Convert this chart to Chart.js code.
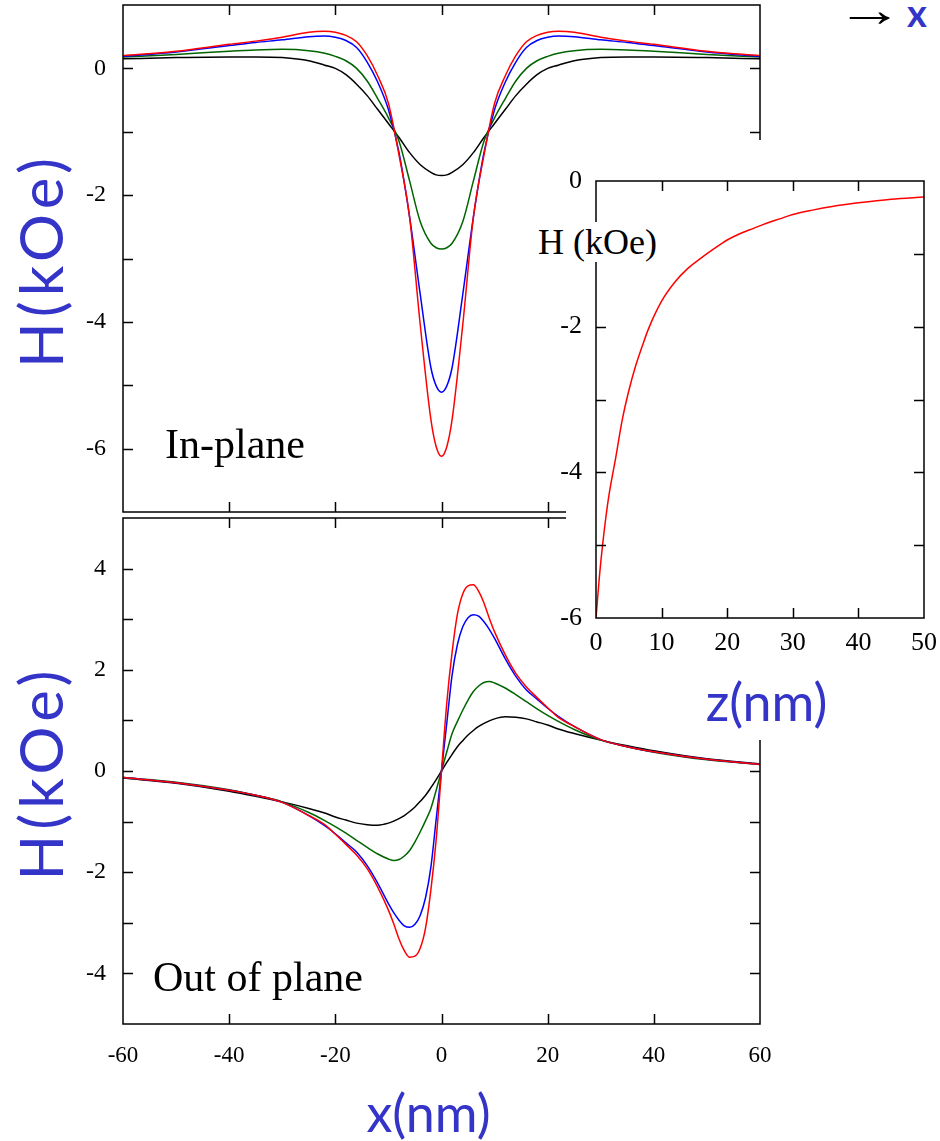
<!DOCTYPE html>
<html>
<head>
<meta charset="utf-8">
<title>Stray field profiles</title>
<script src="https://cdn.jsdelivr.net/npm/chart.js@4.4.0/dist/chart.umd.min.js"></script>
<style>
  body { margin: 0; background: #fff; width: 940px; height: 1141px; position: relative; overflow: hidden; }
  .box { position: absolute; }
  .note { position: absolute; font-family: "Liberation Serif", serif; color: #000; white-space: nowrap; line-height: 1; }
</style>
</head>
<body>
<div class="box" style="left:0;top:0;width:770px;height:520px"><canvas id="inPlane"></canvas></div>
<div class="box" style="left:0;top:513px;width:780px;height:628px"><canvas id="outPlane"></canvas></div>
<!-- white backing of the inset and of its z label -->
<div class="box" style="left:566px;top:140px;width:374px;height:538px;background:#fff"></div>
<div class="box" style="left:700px;top:676px;width:136px;height:64px;background:#fff"></div>
<div class="box" style="left:546px;top:140px;width:394px;height:600px"><canvas id="depth"></canvas></div>

<div class="note" style="left:165px;top:423px;font-size:42px">In-plane</div>
<div class="note" style="left:153px;top:956px;font-size:42px">Out of plane</div>
<div class="note" style="left:538px;top:222px;font-size:36px;background:#fff;padding:2px 0">H (kOe)</div>
<div class="note" style="left:836px;top:-14px;font-size:48px"><span style="display:inline-block;transform:scaleX(1.4);transform-origin:left center">&rarr;</span></div>
<div class="note" style="left:907px;top:-7px;font-family:Lato,sans-serif;font-weight:bold;font-size:38px;color:#3434c8">x</div>

<script>
const BLUE = '#3434c8';

// lateral position (nm) for the in-plane scan
const xInPlane = [-60, -50, -40, -35, -30, -25, -22, -20, -18, -16, -14, -12, -10, -8, -6, -4, -2, -1, 0,
  1, 2, 4, 6, 8, 10, 12, 14, 16, 18, 20, 22, 25, 30, 35, 40, 50, 60];
const hInRed = [0.20, 0.27, 0.38, 0.43, 0.49, 0.57, 0.585, 0.57, 0.52, 0.42, 0.2, -0.12, -0.55, -1.37, -2.35, -4.05, -5.54, -5.97, -6.12,
  -5.97, -5.54, -4.05, -2.35, -1.37, -0.55, -0.12, 0.2, 0.42, 0.52, 0.57, 0.585, 0.57, 0.49, 0.43, 0.38, 0.27, 0.20];
const hInBlue = [0.19, 0.26, 0.36, 0.41, 0.45, 0.50, 0.51, 0.49, 0.44, 0.33, 0.1, -0.22, -0.65, -1.33, -2.35, -3.57, -4.72, -5.01, -5.11,
  -5.01, -4.72, -3.57, -2.35, -1.33, -0.65, -0.22, 0.1, 0.33, 0.44, 0.49, 0.51, 0.50, 0.45, 0.41, 0.36, 0.26, 0.19];
const hInGreen = [0.18, 0.22, 0.27, 0.29, 0.30, 0.28, 0.24, 0.19, 0.12, 0.0, -0.2, -0.48, -0.78, -1.15, -1.78, -2.42, -2.76, -2.83, -2.85,
  -2.83, -2.76, -2.42, -1.78, -1.15, -0.78, -0.48, -0.2, 0.0, 0.12, 0.19, 0.24, 0.28, 0.30, 0.29, 0.27, 0.22, 0.18];
const hInBlack = [0.15, 0.17, 0.18, 0.18, 0.17, 0.12, 0.05, 0.0, -0.1, -0.25, -0.43, -0.65, -0.87, -1.09, -1.33, -1.52, -1.64, -1.68, -1.69,
  -1.68, -1.64, -1.52, -1.33, -1.09, -0.87, -0.65, -0.43, -0.25, -0.1, 0.0, 0.05, 0.12, 0.17, 0.18, 0.18, 0.17, 0.15];

// lateral position (nm) for the out-of-plane scan
const xOutPlane = [-60, -50, -40, -35, -30, -25, -22, -20, -18, -16, -14, -12, -10, -9, -8, -7, -6, -5, -4, -3, -2, -1, 0,
  1, 2, 3, 4, 5, 6, 7, 8, 9, 10, 12, 14, 16, 18, 20, 22, 25, 30, 35, 40, 50, 60];
const hOutRed = [-0.13, -0.23, -0.38, -0.48, -0.62, -0.88, -1.06, -1.25, -1.45, -1.66, -1.93, -2.3, -2.75, -3.02, -3.32, -3.55, -3.68, -3.66, -3.5, -3.1, -2.35, -1.35, 0,
  1.35, 2.35, 3.1, 3.5, 3.66, 3.68, 3.55, 3.32, 3.02, 2.75, 2.3, 1.93, 1.66, 1.45, 1.25, 1.06, 0.88, 0.62, 0.48, 0.38, 0.23, 0.13];
const hOutBlue = [-0.13, -0.23, -0.38, -0.48, -0.62, -0.88, -1.08, -1.24, -1.42, -1.6, -1.87, -2.22, -2.62, -2.8, -2.95, -3.06, -3.09, -3.03, -2.85, -2.5, -1.9, -0.95, 0,
  0.95, 1.9, 2.5, 2.85, 3.03, 3.09, 3.06, 2.95, 2.8, 2.62, 2.22, 1.87, 1.6, 1.42, 1.24, 1.08, 0.88, 0.62, 0.48, 0.38, 0.23, 0.13];
const hOutGreen = [-0.13, -0.22, -0.37, -0.48, -0.61, -0.82, -0.98, -1.1, -1.23, -1.37, -1.51, -1.64, -1.74, -1.77, -1.75, -1.68, -1.57, -1.4, -1.2, -0.98, -0.74, -0.38, 0,
  0.38, 0.74, 0.98, 1.2, 1.4, 1.57, 1.68, 1.75, 1.77, 1.74, 1.64, 1.51, 1.37, 1.23, 1.1, 0.98, 0.82, 0.61, 0.48, 0.37, 0.22, 0.13];
const hOutBlack = [-0.14, -0.24, -0.4, -0.5, -0.61, -0.74, -0.83, -0.91, -0.97, -1.03, -1.06, -1.07, -1.03, -0.99, -0.94, -0.88, -0.8, -0.71, -0.6, -0.48, -0.33, -0.17, 0,
  0.17, 0.33, 0.48, 0.6, 0.71, 0.8, 0.88, 0.94, 0.99, 1.03, 1.07, 1.06, 1.03, 0.97, 0.91, 0.83, 0.74, 0.61, 0.5, 0.4, 0.24, 0.14];

// decay of the peak field with distance z (nm)
const zDepth = [0, 0.5, 1, 1.5, 2, 3, 4, 5, 6, 7, 8, 10, 12, 14, 16, 18, 20, 22, 24, 26, 28, 30, 33, 36, 40, 45, 50];
const hDepth = [-6.0, -5.45, -5.0, -4.62, -4.3, -3.8, -3.28, -2.88, -2.55, -2.28, -2.03, -1.65, -1.39, -1.2, -1.06, -0.93, -0.81,
  -0.72, -0.65, -0.58, -0.52, -0.46, -0.40, -0.35, -0.30, -0.25, -0.22];

Chart.defaults.font.family = '"Liberation Serif", serif';
Chart.defaults.color = '#000';
Chart.defaults.animation = false;

function pts(xs, ys) {
  return xs.map((x, i) => ({ x: x, y: ys[i] }));
}

function curve(xs, ys, color) {
  return {
    data: pts(xs, ys),
    borderColor: color,
    borderWidth: 1.5,
    pointRadius: 0,
    fill: false,
    cubicInterpolationMode: 'monotone'
  };
}

// box frame with inward ticks on all four sides
const frameTicks = {
  id: 'frameTicks',
  afterDatasetsDraw(chart, args, opts) {
    const { ctx, chartArea: a } = chart;
    const sx = chart.scales.x, sy = chart.scales.y;
    const len = opts.len || 10;
    ctx.save();
    ctx.strokeStyle = '#000';
    ctx.lineWidth = 1.5;
    ctx.beginPath();
    sx.ticks.forEach(t => {
      if (t.value <= sx.min || t.value >= sx.max) return;
      const px = Math.round(sx.getPixelForValue(t.value)) + 0.5;
      ctx.moveTo(px, a.bottom); ctx.lineTo(px, a.bottom - len);
      ctx.moveTo(px, a.top); ctx.lineTo(px, a.top + len);
    });
    sy.ticks.forEach(t => {
      if (t.value <= sy.min || t.value >= sy.max) return;
      const py = Math.round(sy.getPixelForValue(t.value)) + 0.5;
      ctx.moveTo(a.left, py); ctx.lineTo(a.left + len, py);
      ctx.moveTo(a.right, py); ctx.lineTo(a.right - len, py);
    });
    ctx.stroke();
    ctx.strokeRect(a.left, a.top, a.right - a.left, a.bottom - a.top);
    ctx.restore();
  }
};

// rotated, letter-spaced field label left of the panel
const sideTitle = {
  id: 'sideTitle',
  afterDraw(chart, args, opts) {
    if (!opts.text) return;
    const { ctx, chartArea: a } = chart;
    ctx.save();
    ctx.font = '60px Lato, sans-serif';
    ctx.fillStyle = BLUE;
    ctx.letterSpacing = '5px';
    ctx.textAlign = 'center';
    ctx.textBaseline = 'middle';
    ctx.translate(opts.x, (a.top + a.bottom) / 2 + 2);
    ctx.rotate(-Math.PI / 2);
    ctx.fillText(opts.text, 0, 0);
    ctx.restore();
  }
};

const hiddenX = {
  type: 'linear', min: -60, max: 60,
  ticks: { stepSize: 20, display: false },
  grid: { display: false, drawTicks: false },
  border: { display: false },
  afterFit: s => { s.height = 0; s.paddingLeft = 0; s.paddingRight = 0; }
};

function fieldAxis(min, max) {
  return {
    min: min, max: max,
    ticks: { stepSize: 1, autoSkip: false, padding: 17, font: { size: 24 }, color: '#000',
      callback: v => (v % 2 === 0 ? v : '') },
    grid: { display: false, drawTicks: false },
    border: { display: false },
    afterFit: s => { s.width = 123; s.paddingTop = 0; s.paddingBottom = 0; }
  };
}

function baseOptions(title) {
  return {
    responsive: true,
    maintainAspectRatio: false,
    events: [],
    plugins: {
      legend: { display: false },
      tooltip: { enabled: false },
      sideTitle: { text: title, x: 44 }
    }
  };
}

new Chart(document.getElementById('inPlane'), {
  type: 'line',
  data: {
    datasets: [
      curve(xInPlane, hInRed, '#ff0000'),
      curve(xInPlane, hInBlue, '#0000ff'),
      curve(xInPlane, hInGreen, '#006400'),
      curve(xInPlane, hInBlack, '#000000')
    ]
  },
  options: Object.assign(baseOptions('H(kOe)'), {
    layout: { padding: { top: 5, right: 10, bottom: 8, left: 0 } },
    scales: { x: hiddenX, y: fieldAxis(-7, 1) }
  }),
  plugins: [frameTicks, sideTitle]
});

new Chart(document.getElementById('outPlane'), {
  type: 'line',
  data: {
    datasets: [
      curve(xOutPlane, hOutRed, '#ff0000'),
      curve(xOutPlane, hOutBlue, '#0000ff'),
      curve(xOutPlane, hOutGreen, '#006400'),
      curve(xOutPlane, hOutBlack, '#000000')
    ]
  },
  options: Object.assign(baseOptions('H(kOe)'), {
    layout: { padding: { top: 5, right: 20, bottom: 0, left: 0 } },
    scales: {
      x: {
        type: 'linear', min: -60, max: 60,
        ticks: { stepSize: 20, autoSkip: false, padding: 18, maxRotation: 0, font: { size: 23 }, color: '#000' },
        grid: { display: false, drawTicks: false },
        border: { display: false },
        title: { display: true, text: 'x(nm)\u2002', color: BLUE,
          font: { family: 'Lato', size: 52, lineHeight: 1 }, padding: { top: 0, bottom: 0 } },
        afterFit: s => { s.height = 117; s.paddingLeft = 0; s.paddingRight = 0; }
      },
      y: fieldAxis(-5, 5)
    }
  }),
  plugins: [frameTicks, sideTitle]
});

new Chart(document.getElementById('depth'), {
  type: 'line',
  data: { datasets: [curve(zDepth, hDepth, '#ff0000')] },
  options: Object.assign(baseOptions(''), {
    layout: { padding: { top: 41, right: 16, bottom: 0, left: 0 } },
    scales: {
      x: {
        type: 'linear', min: 0, max: 50,
        ticks: { stepSize: 10, autoSkip: false, padding: 10, maxRotation: 0, font: { size: 26 }, color: '#000' },
        grid: { display: false, drawTicks: false },
        border: { display: false },
        title: { display: true, text: '\u2009\u2009z(nm)', color: BLUE,
          font: { family: 'Lato', size: 52, lineHeight: 1 }, padding: { top: 0, bottom: 10 } },
        afterFit: s => { s.height = 122; s.paddingLeft = 0; s.paddingRight = 0; }
      },
      y: {
        min: -6, max: 0,
        ticks: { stepSize: 1, autoSkip: false, padding: 14, font: { size: 26 }, color: '#000',
          callback: v => (v % 2 === 0 ? v : '') },
        grid: { display: false, drawTicks: false },
        border: { display: false },
        afterFit: s => { s.width = 50; s.paddingTop = 0; s.paddingBottom = 0; }
      }
    }
  }),
  plugins: [frameTicks]
});
</script>
</body>
</html>
